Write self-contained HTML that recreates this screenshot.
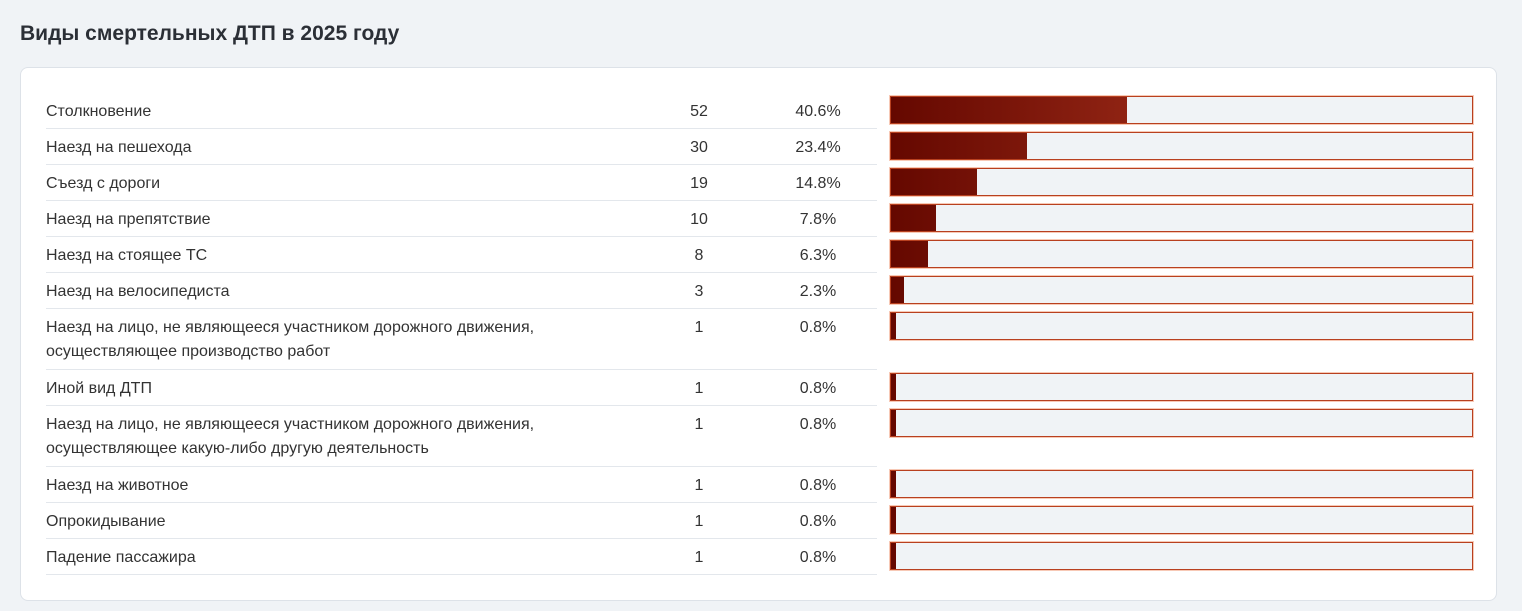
<!DOCTYPE html>
<html><head><meta charset="utf-8"><style>
body{margin:0;width:1522px;height:611px;background:#f0f3f6;font-family:"Liberation Sans",Arial,sans-serif;position:relative;overflow:hidden}
h1{position:absolute;left:20px;top:22px;margin:0;font-size:21px;font-weight:bold;color:#2b2f36}
.card{position:absolute;left:20px;top:67px;width:1475px;height:532px;background:#fff;border:1px solid #dde2e8;border-radius:8px}
.row{position:absolute;left:46px;width:831px;border-bottom:1px solid #e3e7ec;font-size:16px;color:#333}
.lbl{position:absolute;left:0;top:8px;line-height:24px;width:600px}
.n{position:absolute;left:620px;width:66px;text-align:center;top:8px;line-height:24px}
.p{position:absolute;left:732px;width:80px;text-align:center;top:8px;line-height:24px}
.bar{position:absolute;left:890px;width:581px;height:26px;background:#f0f3f6;border:1px solid #b8401f;box-shadow:0 0 0 1px #f7c9b6}
.f{height:100%;background:linear-gradient(90deg,#650800,#cc4a2e);background-size:581px 100%}
</style></head><body>
<h1>Виды смертельных ДТП в 2025 году</h1>
<div class="card"></div>
<div class="row" style="top:92px;height:36px"><div class="lbl">Столкновение</div><div class="n">52</div><div class="p">40.6%</div></div>
<div class="bar" style="top:96px"><div class="f" style="width:40.6%"></div></div>
<div class="row" style="top:128px;height:36px"><div class="lbl">Наезд на пешехода</div><div class="n">30</div><div class="p">23.4%</div></div>
<div class="bar" style="top:132px"><div class="f" style="width:23.4%"></div></div>
<div class="row" style="top:164px;height:36px"><div class="lbl">Съезд с дороги</div><div class="n">19</div><div class="p">14.8%</div></div>
<div class="bar" style="top:168px"><div class="f" style="width:14.8%"></div></div>
<div class="row" style="top:200px;height:36px"><div class="lbl">Наезд на препятствие</div><div class="n">10</div><div class="p">7.8%</div></div>
<div class="bar" style="top:204px"><div class="f" style="width:7.8%"></div></div>
<div class="row" style="top:236px;height:36px"><div class="lbl">Наезд на стоящее ТС</div><div class="n">8</div><div class="p">6.3%</div></div>
<div class="bar" style="top:240px"><div class="f" style="width:6.3%"></div></div>
<div class="row" style="top:272px;height:36px"><div class="lbl">Наезд на велосипедиста</div><div class="n">3</div><div class="p">2.3%</div></div>
<div class="bar" style="top:276px"><div class="f" style="width:2.3%"></div></div>
<div class="row" style="top:308px;height:61px"><div class="lbl">Наезд на лицо, не являющееся участником дорожного движения, осуществляющее производство работ</div><div class="n">1</div><div class="p">0.8%</div></div>
<div class="bar" style="top:312px"><div class="f" style="width:0.8%"></div></div>
<div class="row" style="top:369px;height:36px"><div class="lbl">Иной вид ДТП</div><div class="n">1</div><div class="p">0.8%</div></div>
<div class="bar" style="top:373px"><div class="f" style="width:0.8%"></div></div>
<div class="row" style="top:405px;height:61px"><div class="lbl">Наезд на лицо, не являющееся участником дорожного движения, осуществляющее какую-либо другую деятельность</div><div class="n">1</div><div class="p">0.8%</div></div>
<div class="bar" style="top:409px"><div class="f" style="width:0.8%"></div></div>
<div class="row" style="top:466px;height:36px"><div class="lbl">Наезд на животное</div><div class="n">1</div><div class="p">0.8%</div></div>
<div class="bar" style="top:470px"><div class="f" style="width:0.8%"></div></div>
<div class="row" style="top:502px;height:36px"><div class="lbl">Опрокидывание</div><div class="n">1</div><div class="p">0.8%</div></div>
<div class="bar" style="top:506px"><div class="f" style="width:0.8%"></div></div>
<div class="row" style="top:538px;height:36px"><div class="lbl">Падение пассажира</div><div class="n">1</div><div class="p">0.8%</div></div>
<div class="bar" style="top:542px"><div class="f" style="width:0.8%"></div></div>
</body></html>
